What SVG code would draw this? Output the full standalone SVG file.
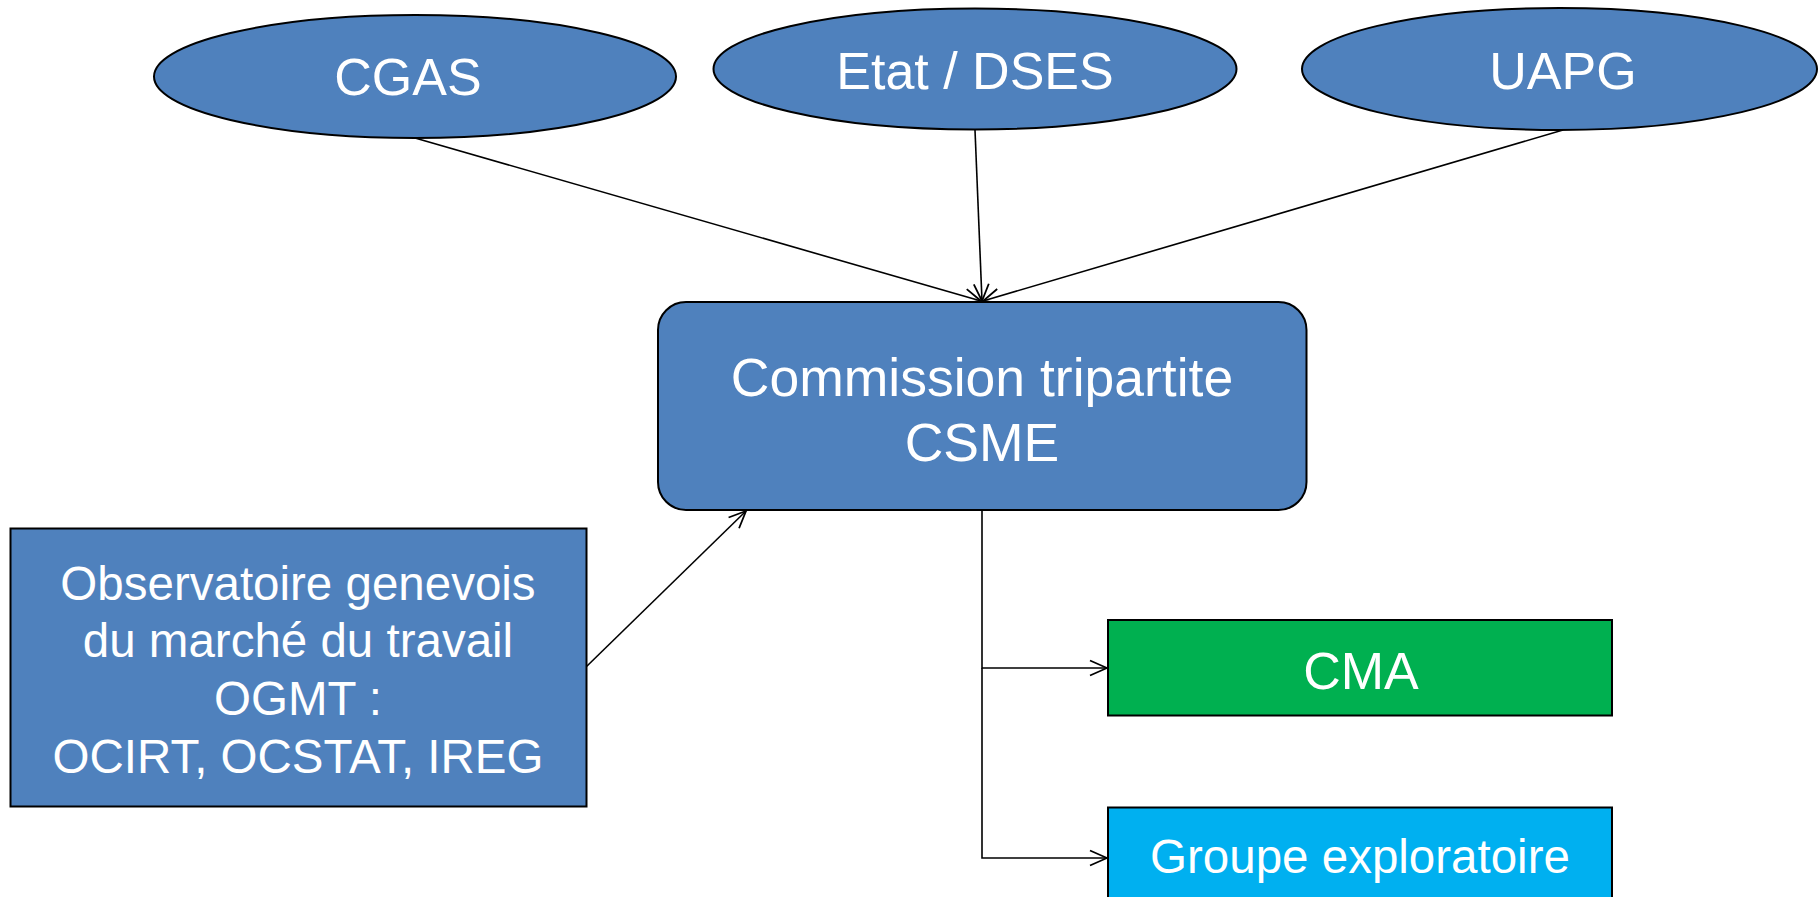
<svg xmlns="http://www.w3.org/2000/svg" width="1818" height="897" viewBox="0 0 1818 897">
<style>
.shape{stroke:#000;stroke-width:2}
.blue{fill:#4F81BD}
.green{fill:#00B050}
.cyan{fill:#00B0F0}
.lbl{fill:#fff;font-family:"Liberation Sans",Arial,sans-serif;text-anchor:middle}
.conn{fill:none;stroke:#000;stroke-width:1.6}
</style>
<defs>
<marker id="arr" viewBox="0 0 20 20" refX="18" refY="10" markerWidth="20" markerHeight="20" orient="auto" markerUnits="userSpaceOnUse">
<path d="M1,2.5 L18,10 L1,17.5" fill="none" stroke="#000" stroke-width="1.8"/>
</marker>
</defs>
<rect width="1818" height="897" fill="#fff"/>
<g id="connectors">
<line class="conn" x1="415" y1="138" x2="981" y2="301" marker-end="url(#arr)"/>
<line class="conn" x1="975" y1="130" x2="982" y2="301" marker-end="url(#arr)"/>
<line class="conn" x1="1563" y1="130" x2="983" y2="301" marker-end="url(#arr)"/>
<line class="conn" x1="586" y1="667" x2="746" y2="511" marker-end="url(#arr)"/>
<polyline class="conn" points="982,510 982,668 1107,668" marker-end="url(#arr)"/>
<polyline class="conn" points="982,668 982,858 1107,858" marker-end="url(#arr)"/>
</g>
<g id="cgas">
<ellipse class="shape blue" cx="415" cy="76.5" rx="261" ry="61.5"/>
<text class="lbl" x="408" y="95" font-size="52">CGAS</text>
</g>
<g id="etat">
<ellipse class="shape blue" cx="975" cy="69" rx="261.5" ry="60.5"/>
<text class="lbl" x="975" y="89" font-size="52">Etat / DSES</text>
</g>
<g id="uapg">
<ellipse class="shape blue" cx="1559.5" cy="69" rx="257.5" ry="61"/>
<text class="lbl" x="1563" y="89" font-size="52">UAPG</text>
</g>
<g id="commission">
<rect class="shape blue" x="658" y="302" width="648.5" height="208" rx="28" ry="28"/>
<text class="lbl" font-size="53.5"><tspan x="982" y="396">Commission tripartite</tspan><tspan x="982" y="461">CSME</tspan></text>
</g>
<g id="observatoire">
<rect class="shape blue" x="10.5" y="528.5" width="576" height="278"/>
<text class="lbl" font-size="47.5"><tspan x="298" y="600">Observatoire genevois</tspan><tspan x="298" y="657">du marché du travail</tspan><tspan x="298" y="715">OGMT :</tspan><tspan x="298" y="773">OCIRT, OCSTAT, IREG</tspan></text>
</g>
<g id="cma">
<rect class="shape green" x="1108" y="620" width="504" height="95.5"/>
<text class="lbl" x="1361" y="689" font-size="52">CMA</text>
</g>
<g id="groupe">
<rect class="shape cyan" x="1108" y="807.5" width="504" height="100"/>
<text class="lbl" x="1360" y="873" font-size="47.5">Groupe exploratoire</text>
</g>
</svg>
